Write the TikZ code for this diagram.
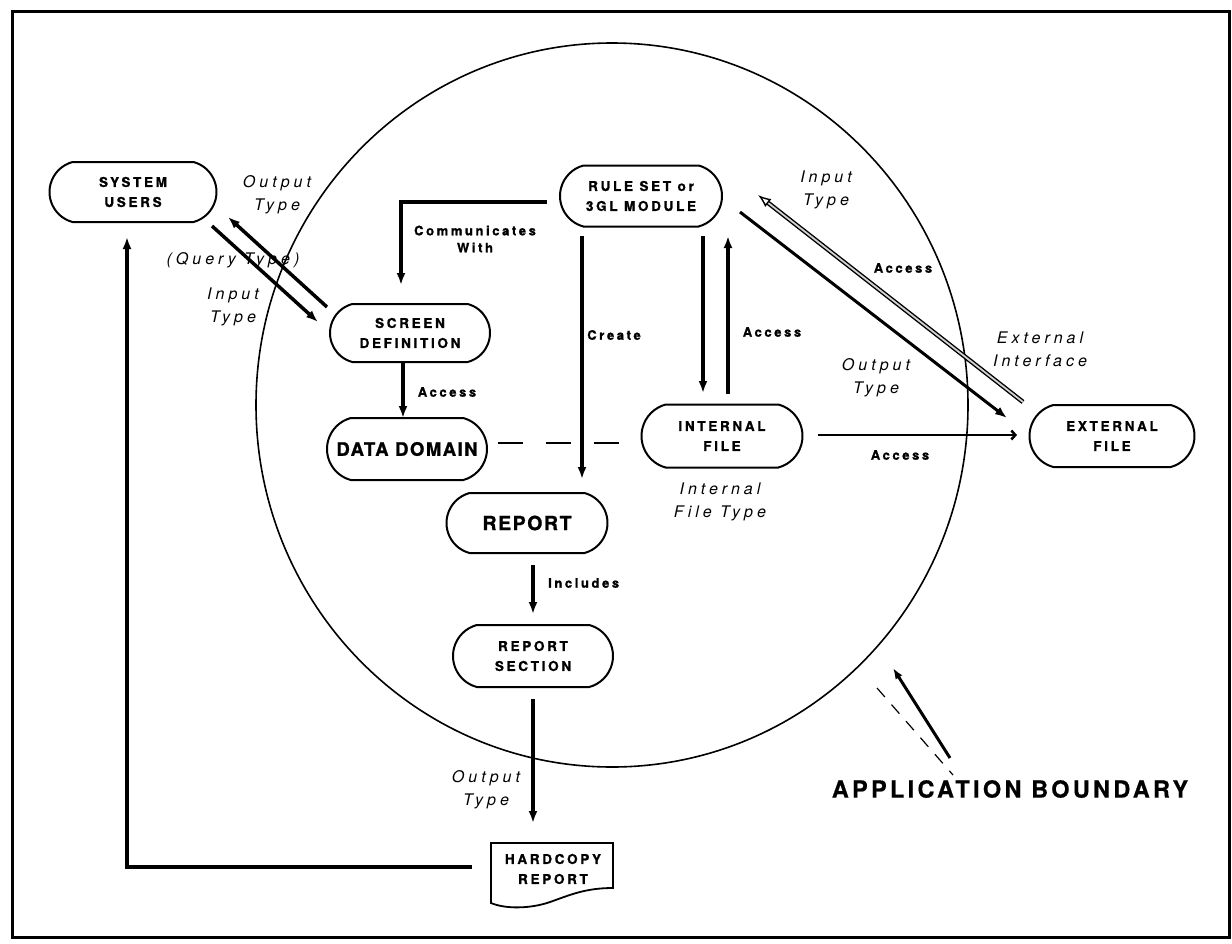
\documentclass[tikz,border=0pt]{standalone}
\usepackage{fontspec}
\setmainfont{TeX Gyre Heros}
\newfontfamily\bxfont[LetterSpace=20, BoldFeatures={FakeBold=1.2}]{TeX Gyre Heros}
\newfontfamily\bgfont[LetterSpace=8, BoldFeatures={FakeBold=1}]{TeX Gyre Heros}
\newfontfamily\abfont[LetterSpace=14, BoldFeatures={FakeBold=0.6}]{TeX Gyre Heros}
\newfontfamily\itfont[LetterSpace=25]{TeX Gyre Heros}
\usetikzlibrary{shapes.misc,arrows.meta,calc}
\begin{document}
\begin{tikzpicture}[x=1pt,y=-1pt,
  box/.style={draw, line width=2pt, rounded rectangle, rounded rectangle arc length=150,
    inner sep=0pt, minimum width=161pt, minimum height=61pt, align=center,
    font=\bxfont\bfseries\fontsize{13.5}{20}\selectfont},
  bigbox/.style={box, font=\bgfont\bfseries\fontsize{18.5}{22}\selectfont},
  lbl/.style={inner sep=0pt, align=center, font=\bxfont\bfseries\fontsize{13}{17}\selectfont},
  itl/.style={inner sep=0pt, align=center, font=\itfont\itshape\fontsize{16}{23}\selectfont},
  arr/.style={line width=3.5pt, -{Latex[length=12pt,width=9pt]}},
  thin/.style={line width=1.8pt}]
\useasboundingbox (0,0) rectangle (1232,943);
\draw[line width=3pt] (12,11) rectangle (1229,937);
% application boundary
\draw[line width=1.6pt] (612,405) ellipse [x radius=356, y radius=362];

% nodes
\node[box, minimum width=167pt, minimum height=60pt] (users) at (133,192) {SYSTEM\\USERS};
\node[box, minimum width=162pt] (rule) at (641,196) {RULE SET or\\3GL MODULE};
\node[box, minimum width=160pt, minimum height=58pt] (screen) at (410,333) {SCREEN\\DEFINITION};
\node[bigbox, minimum width=160pt, minimum height=62pt] (data) at (407,449) {DATA DOMAIN};
\node[box, minimum height=63pt] (internal) at (722,436) {INTERNAL\\FILE};
\node[box, minimum width=165pt, minimum height=62pt] (external) at (1112,436) {EXTERNAL\\FILE};
\node[box, minimum height=60pt, font=\bgfont\bfseries\fontsize{19.5}{22}\selectfont] (report) at (527,523) {REPORT};
\node[box, minimum width=160pt, minimum height=62pt] (section) at (533,656) {REPORT\\SECTION};
\draw[thin] (491,843) -- (613,843) -- (613,888)
  .. controls (585,888) and (570,895) .. (550,902)
  .. controls (530,909) and (505,909) .. (491,903) -- cycle;
\node[lbl, font=\bxfont\bfseries\fontsize{13.5}{20}\selectfont] (hardcopy) at (553,869) {HARDCOPY\\REPORT};

% connector end points
\coordinate (uo1) at (327,307); \coordinate (uo2) at (228,217);
\coordinate (ui1) at (212,226); \coordinate (ui2) at (318,322);
\coordinate (cw1) at (547,202); \coordinate (cw2) at (401,285);
\coordinate (cr1) at (582,236); \coordinate (cr2) at (582,479);
\coordinate (ri1) at (703,236); \coordinate (ri2) at (703,393);
\coordinate (ir1) at (728,394); \coordinate (ir2) at (728,236);
\coordinate (ei1) at (1023,402); \coordinate (ei2) at (758,195);
\coordinate (eo1) at (740,212); \coordinate (eo2) at (1007,418);
\coordinate (ie1) at (818,435); \coordinate (ie2) at (1017,435);
\coordinate (sd1) at (403,362); \coordinate (sd2) at (403,418);
\coordinate (rs1) at (533,565); \coordinate (rs2) at (533,614);
\coordinate (sh1) at (533,699); \coordinate (sh2) at (533,823);
\coordinate (hu1) at (472,867); \coordinate (hu2) at (127,867); \coordinate (hu3) at (127,237);
\coordinate (ab1) at (950,758); \coordinate (ab2) at (893,668);
\coordinate (ad1) at (877,688); \coordinate (ad2) at (953,775);

% connectors
\draw[arr] (uo1) -- (uo2);
\draw[arr] (ui1) -- (ui2);
\draw[arr] (cw1) -| (cw2);
\draw[arr] (cr1) -- (cr2);
\draw[arr] (ri1) -- (ri2);
\draw[arr] (ir1) -- (ir2);
\draw[line width=1.4pt, double=gray!35, double distance=1.8pt, -{Latex[open,length=13pt,width=10pt]}] (ei1) -- (ei2);
\draw[line width=3pt, -{Latex[length=12pt,width=9pt]}] (eo1) -- (eo2);
\draw[line width=2pt, -{Straight Barb[length=4pt,width=9pt,line width=2.5pt]}] (ie1) -- (ie2);
\draw[line width=2.6pt, dash pattern=on 25pt off 23pt] (data.east) ++(10,-6) -- ($(internal.west)+(-22,7)$);
\draw[arr] (sd1) -- (sd2);
\draw[arr] (rs1) -- (rs2);
\draw[arr] (sh1) -- (sh2);
\draw[arr] (hu1) -- (hu2) -- (hu3);
\draw[line width=3pt, -{Latex[length=11pt,width=8pt]}] (ab1) -- (ab2);
\draw[line width=1.2pt, dash pattern=on 12pt off 10pt] (ad1) -- (ad2);

% labels
\node[itl] at (277,195) {Output\\Type};
\node[itl] at (233,260) {(Query Type)};
\node[itl] at (233,307) {Input\\Type};
\node[lbl] at (475,239) {Communicates\\With};
\node[lbl] at (614,335) {Create};
\node[lbl] at (447,392) {Access};
\node[lbl] at (772,332) {Access};
\node[itl] at (826,190) {Input\\Type};
\node[lbl] at (903,268) {Access};
\node[itl] at (876,378) {Output\\Type};
\node[itl] at (1040,349) {External\\Interface};
\node[lbl] at (900,455) {Access};
\node[itl] at (720,502) {Internal\\File Type};
\node[lbl, anchor=west] at (548,583) {Includes};
\node[itl] at (486,790) {Output\\Type};
\node[inner sep=0pt, font=\abfont\bfseries\fontsize{23.5}{26}\selectfont] at (1010,789) {APPLICATION BOUNDARY};
\end{tikzpicture}
\end{document}
